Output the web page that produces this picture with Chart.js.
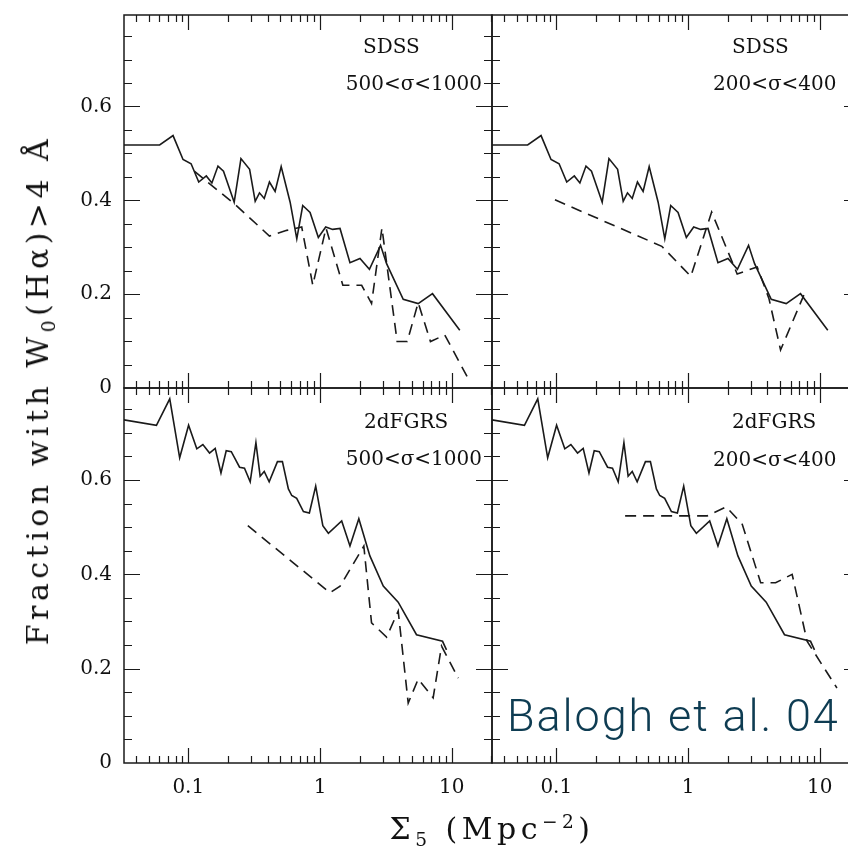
<!DOCTYPE html>
<html><head><meta charset="utf-8">
<script src="https://cdn.jsdelivr.net/npm/chart.js@4.4.1/dist/chart.umd.min.js"></script>
<style>
html,body{margin:0;padding:0;width:848px;height:858px;overflow:hidden;background:#fff;}
#wrap{position:relative;width:848px;height:858px;overflow:hidden;}
canvas{position:absolute;left:0;top:0;}
.lbl{position:absolute;font-family:'DejaVu Serif';font-size:20px;line-height:20px;color:#111;white-space:nowrap;}
.ttl{position:absolute;font-family:'DejaVu Serif';font-size:30px;line-height:30px;letter-spacing:4.5px;color:#111;white-space:nowrap;}
.ttl sub{font-size:62%;vertical-align:baseline;position:relative;top:0.35em;}
.ttl sup{font-size:62%;vertical-align:baseline;position:relative;top:-0.6em;}
#credit{position:absolute;left:507px;top:693px;font-family:Roboto,'Liberation Sans',sans-serif;font-weight:300;font-size:45px;line-height:45px;letter-spacing:1.9px;color:#0e3c52;white-space:nowrap;}
</style></head>
<body>
<div id="wrap">
<canvas id="cTL" width="880" height="858"></canvas>
<canvas id="cTR" width="880" height="858"></canvas>
<canvas id="cBL" width="880" height="858"></canvas>
<canvas id="cBR" width="880" height="858"></canvas>
<div class="lbl" id="tl1" style="left:363px;top:36px">SDSS</div>
<div class="lbl" id="tl2" style="right:366px;top:73px">500&lt;σ&lt;1000</div>
<div class="lbl" id="tr1" style="left:732px;top:36px">SDSS</div>
<div class="lbl" id="tr2" style="left:713px;top:73px">200&lt;σ&lt;400</div>
<div class="lbl" id="bl1" style="left:364px;top:411px">2dFGRS</div>
<div class="lbl" id="bl2" style="right:366px;top:448px">500&lt;σ&lt;1000</div>
<div class="lbl" id="br1" style="left:732px;top:411px">2dFGRS</div>
<div class="lbl" id="br2" style="left:713px;top:449px">200&lt;σ&lt;400</div>
<div class="ttl" id="ytitle" style="left:40px;top:390px;transform:translate(-50%,-50%) rotate(-90deg);">Fraction with W<sub>0</sub>(Hα)&gt;4 Å</div>
<div class="ttl" id="xtitle" style="left:492px;top:831px;transform:translate(-50%,-50%);">Σ<sub>5</sub> (Mpc<sup>−2</sup>)</div>
<div id="credit">Balogh et al. 04</div>
</div>
<script>
// ---- data ----
const xTickValues = [0.1, 1, 10];
const xTickLabels = ['0.1', '1', '10'];
const yTickValues = [0, 0.2, 0.4, 0.6];
const yTickLabels = ['0', '0.2', '0.4', '0.6'];

// SDSS, all clusters (solid)
const sdssAllX = [0.03, 0.0606, 0.0766, 0.0912, 0.105, 0.120, 0.137, 0.151, 0.168, 0.185, 0.223, 0.251, 0.292, 0.322, 0.347, 0.377, 0.413, 0.456, 0.507, 0.593, 0.666, 0.739, 0.840, 0.971, 1.104, 1.247, 1.418, 1.687, 2.01, 2.37, 2.88, 3.20, 4.28, 5.56, 7.14, 11.5];
const sdssAllY = [0.518, 0.518, 0.538, 0.487, 0.478, 0.439, 0.452, 0.437, 0.473, 0.462, 0.396, 0.489, 0.466, 0.398, 0.416, 0.404, 0.439, 0.419, 0.472, 0.396, 0.318, 0.389, 0.374, 0.321, 0.343, 0.338, 0.340, 0.267, 0.276, 0.253, 0.304, 0.265, 0.189, 0.180, 0.201, 0.123];
// SDSS 500<sigma<1000 (dashed)
const sdssHiX = [0.111, 0.227, 0.413, 0.559, 0.726, 0.881, 1.11, 1.49, 2.07, 2.46, 2.95, 3.85, 4.59, 5.56, 6.89, 8.85, 13.5];
const sdssHiY = [0.462, 0.391, 0.324, 0.336, 0.343, 0.219, 0.341, 0.219, 0.219, 0.180, 0.341, 0.099, 0.099, 0.182, 0.099, 0.113, 0.017];
// SDSS 200<sigma<400 (dashed)
const sdssLoX = [0.0977, 0.632, 1.05, 1.51, 2.36, 3.35, 4.11, 5.04, 7.57];
const sdssLoY = [0.401, 0.302, 0.238, 0.375, 0.243, 0.258, 0.191, 0.081, 0.198];
// 2dFGRS, all clusters (solid)
const tdfAllX = [0.03, 0.0573, 0.0723, 0.0860, 0.1005, 0.116, 0.129, 0.145, 0.160, 0.177, 0.194, 0.212, 0.245, 0.267, 0.295, 0.326, 0.351, 0.377, 0.411, 0.475, 0.518, 0.575, 0.610, 0.665, 0.748, 0.830, 0.927, 1.05, 1.157, 1.46, 1.687, 1.97, 2.39, 3.02, 3.92, 5.40, 8.51, 9.12];
const tdfAllY = [0.729, 0.716, 0.772, 0.647, 0.716, 0.666, 0.675, 0.657, 0.667, 0.615, 0.662, 0.660, 0.627, 0.625, 0.596, 0.679, 0.608, 0.618, 0.596, 0.639, 0.639, 0.581, 0.567, 0.561, 0.533, 0.530, 0.587, 0.503, 0.487, 0.513, 0.460, 0.518, 0.439, 0.375, 0.341, 0.272, 0.258, 0.240];
// 2dFGRS 500<sigma<1000 (dashed)
const tdfHiX = [0.283, 1.19, 1.42, 2.15, 2.46, 3.20, 3.92, 4.67, 5.56, 7.22, 8.36, 11.2];
const tdfHiY = [0.503, 0.361, 0.375, 0.460, 0.297, 0.267, 0.322, 0.127, 0.178, 0.138, 0.248, 0.180];
// 2dFGRS 200<sigma<400 (dashed)
const tdfLoX = [0.333, 1.40, 1.95, 2.58, 3.56, 4.62, 6.17, 8.01, 13.5];
const tdfLoY = [0.524, 0.524, 0.543, 0.506, 0.382, 0.382, 0.400, 0.258, 0.159];

// ---- axis ranges ----
const XMIN = 0.0325, XMAX = 20.2;
const YMIN = 0, YMAX = 0.795;
const Y_MINOR_STEP = 0.05;

const pts = (xs, ys) => xs.map((x, i) => ({x: x, y: ys[i]}));

const frame = {
  id: 'frame',
  afterDraw(chart) {
    const {ctx, chartArea: a, scales: {x, y}} = chart;
    ctx.save();
    ctx.strokeStyle = '#1a1a1a';
    ctx.lineWidth = 1.5;
    ctx.strokeRect(a.left, a.top, a.right - a.left, a.bottom - a.top);
    ctx.lineWidth = 1.2;
    ctx.beginPath();
    for (let d = -2; d <= 1; d++) {
      for (let m = 1; m <= 9; m++) {
        const v = m * Math.pow(10, d);
        if (v <= x.min || v >= x.max) continue;
        const px = Math.round(x.getPixelForValue(v)) + 0.5;
        const L = m === 1 ? 15 : 7;
        ctx.moveTo(px, a.top); ctx.lineTo(px, a.top + L);
        ctx.moveTo(px, a.bottom); ctx.lineTo(px, a.bottom - L);
      }
    }
    for (let i = 1; i * Y_MINOR_STEP < y.max - 0.01; i++) {
      const v = i * Y_MINOR_STEP;
      const py = Math.round(y.getPixelForValue(v)) + 0.5;
      const L = (i % 4 === 0) ? 16 : 8;
      ctx.moveTo(a.left, py); ctx.lineTo(a.left + L, py);
      ctx.moveTo(a.right, py); ctx.lineTo(a.right - L, py);
    }
    ctx.stroke();
    ctx.restore();
  }
};

Chart.defaults.font.family = "'DejaVu Serif', serif";
Chart.defaults.font.size = 20;
Chart.defaults.color = '#111';

function zeroPad(s) { s.paddingLeft = 0; s.paddingRight = 0; s.paddingTop = 0; s.paddingBottom = 0; }

// area = [left, top, right, bottom] of the plotting frame in page pixels
function makePanel(id, solidX, solidY, dashX, dashY, area, showX, showY) {
  const W = 880, H = 858;
  const [L, T, R, B] = area;
  const pad = {left: showY ? 0 : L, top: T, right: W - R, bottom: showX ? 0 : H - B};
  new Chart(document.getElementById(id), {
    type: 'scatter',
    data: {
      datasets: [
        {data: pts(solidX, solidY), showLine: true, borderColor: '#1a1a1a', borderWidth: 1.6, pointRadius: 0, tension: 0, fill: false},
        {data: pts(dashX, dashY), showLine: true, borderColor: '#1a1a1a', borderWidth: 1.6, borderDash: [11, 7], pointRadius: 0, tension: 0, fill: false}
      ]
    },
    options: {
      responsive: false,
      animation: false,
      devicePixelRatio: 1,
      layout: {padding: pad},
      plugins: {legend: {display: false}, tooltip: {enabled: false}, title: {display: false}},
      events: [],
      scales: {
        x: {
          type: 'logarithmic', min: XMIN, max: XMAX,
          grid: {display: false, drawTicks: false}, border: {display: false},
          ticks: {display: showX, padding: 13, autoSkip: false, maxRotation: 0,
                  callback: (v) => { const k = xTickValues.indexOf(v); return k >= 0 ? xTickLabels[k] : ''; }},
          afterBuildTicks: (s) => { s.ticks = xTickValues.map(v => ({value: v})); },
          afterFit: (s) => { s.height = showX ? H - B : 0; zeroPad(s); }
        },
        y: {
          type: 'linear', min: YMIN, max: YMAX,
          grid: {display: false, drawTicks: false}, border: {display: false},
          ticks: {display: showY, padding: 12, autoSkip: false,
                  callback: (v) => { const k = yTickValues.indexOf(v); return k >= 0 ? yTickLabels[k] : ''; }},
          afterBuildTicks: (s) => { s.ticks = yTickValues.map(v => ({value: v})); },
          afterFit: (s) => { s.width = showY ? L : 0; zeroPad(s); }
        }
      }
    },
    plugins: [frame]
  });
}

makePanel('cTL', sdssAllX, sdssAllY, sdssHiX, sdssHiY, [124, 15, 492, 388], false, true);
makePanel('cTR', sdssAllX, sdssAllY, sdssLoX, sdssLoY, [492, 15, 860, 388], false, false);
makePanel('cBL', tdfAllX, tdfAllY, tdfHiX, tdfHiY, [124, 388, 492, 763], true, true);
makePanel('cBR', tdfAllX, tdfAllY, tdfLoX, tdfLoY, [492, 388, 860, 763], true, false);
</script>
</body></html>
